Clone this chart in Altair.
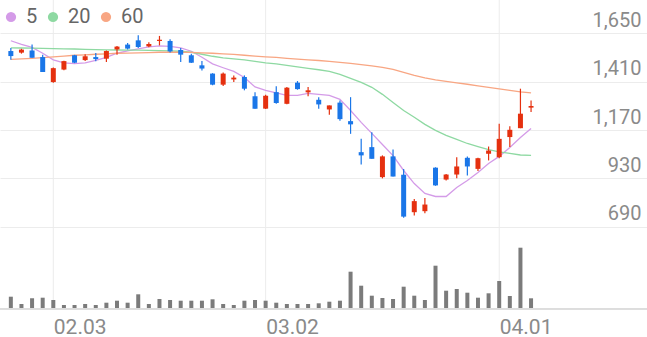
import altair as alt
import pandas as pd

# ---- data ----
dates = ["01.28", "01.29", "01.30", "01.31",
         "02.03", "02.04", "02.05", "02.06", "02.07", "02.10", "02.11", "02.12", "02.13", "02.14",
         "02.17", "02.18", "02.19", "02.20", "02.21", "02.24", "02.25", "02.26", "02.27", "02.28",
         "03.02", "03.03", "03.04", "03.05", "03.06", "03.09", "03.10", "03.11", "03.12", "03.13",
         "03.16", "03.17", "03.18", "03.19", "03.20", "03.23", "03.24", "03.25", "03.26", "03.27",
         "03.30", "03.31", "04.01", "04.02", "04.03", "04.06"]
opens = [1562, 1554, 1565, 1532, 1408, 1470, 1541, 1517, 1532, 1524,
         1570, 1594, 1615, 1585, 1612, 1612, 1567, 1541, 1491, 1450,
         1395, 1421, 1433, 1338, 1276, 1358, 1300, 1405, 1357, 1320,
         1272, 1306, 1214, 1060, 1085, 936, 1039, 948, 762, 767,
         983, 924, 949, 1032, 977, 1052, 1035, 1135, 1179, 1281]
highs = [1577, 1573, 1594, 1544, 1480, 1514, 1543, 1546, 1552, 1565,
         1587, 1602, 1640, 1605, 1637, 1620, 1577, 1549, 1512, 1452,
         1455, 1441, 1441, 1358, 1345, 1387, 1383, 1413, 1383, 1333,
         1292, 1317, 1333, 1126, 1159, 1044, 1073, 977, 828, 833,
         985, 952, 1035, 1039, 1032, 1088, 1201, 1188, 1375, 1317]
lows = [1519, 1549, 1529, 1458, 1405, 1467, 1502, 1512, 1511, 1507,
        1544, 1570, 1577, 1581, 1590, 1555, 1507, 1502, 1465, 1392,
        1388, 1408, 1367, 1276, 1274, 1300, 1298, 1370, 1338, 1276,
        1246, 1216, 1151, 999, 1027, 930, 939, 735, 745, 757,
        893, 919, 931, 944, 966, 1019, 1030, 1085, 1179, 1259]
closes = [1537, 1569, 1529, 1458, 1477, 1512, 1504, 1536, 1522, 1562,
          1584, 1574, 1582, 1597, 1618, 1560, 1544, 1504, 1475, 1395,
          1450, 1430, 1375, 1276, 1340, 1304, 1380, 1373, 1367, 1297,
          1292, 1224, 1198, 1044, 1027, 1039, 939, 740, 817, 800,
          895, 949, 989, 989, 1030, 1068, 1126, 1171, 1251, 1289]
volumes = [123, 50, 107, 113, 90, 40, 40, 50, 40, 63,
           83, 63, 147, 50, 100, 90, 83, 83, 83, 97,
           50, 40, 83, 90, 83, 63, 50, 50, 50, 57,
           73, 83, 373, 233, 133, 110, 100, 223, 133, 90,
           433, 183, 200, 163, 113, 157, 280, 130, 613, 107]
ma5 = [1613, 1595, 1580, 1551, 1518, 1503, 1499, 1503, 1516, 1531,
       1551, 1563, 1573, 1583, 1588, 1585, 1578, 1561, 1531, 1498,
       1479, 1461, 1431, 1384, 1367, 1354, 1342, 1342, 1352, 1347,
       1342, 1322, 1267, 1208, 1153, 1098, 1043, 969, 904, 855,
       840, 840, 885, 919, 959, 1004, 1039, 1083, 1133, 1178]
ma20 = [1578, 1577, 1576, 1575, 1574, 1573, 1572, 1570, 1569, 1568,
        1567, 1566, 1566, 1565, 1564, 1563, 1561, 1556, 1546, 1536,
        1528, 1523, 1518, 1511, 1503, 1498, 1491, 1483, 1476, 1469,
        1461, 1446, 1426, 1406, 1382, 1347, 1307, 1267, 1233, 1198,
        1168, 1143, 1123, 1103, 1088, 1073, 1061, 1054, 1046, 1044]
ma60 = [1521, 1523, 1526, 1529, 1533, 1537, 1541, 1543, 1546, 1548,
        1551, 1552, 1553, 1554, 1556, 1556, 1556, 1555, 1553, 1551,
        1548, 1545, 1541, 1537, 1533, 1530, 1526, 1522, 1518, 1515,
        1511, 1506, 1501, 1495, 1488, 1481, 1471, 1456, 1441, 1429,
        1419, 1411, 1404, 1397, 1389, 1382, 1374, 1367, 1359, 1354]
ma_names = ["5", "20", "60"]
ma_colors = ["#d49be8", "#8ed9a2", "#f8a683"]
tick_idx = [4, 24, 46]
price_ticks = [690, 930, 1170, 1410, 1650]

UP = "#e5300f"
DOWN = "#1a76e8"
GRID = "#ececec"
LABEL = "#8a8a8a"

n = len(dates)
candles = pd.DataFrame({
    "i": list(range(n)), "date": dates, "open": opens, "high": highs,
    "low": lows, "close": closes, "volume": volumes,
})
ma_rows = []
for name, vals in zip(ma_names, [ma5, ma20, ma60]):
    for k, v in enumerate(vals):
        ma_rows.append({"i": k, "ma": v, "series": name})
ma_df = pd.DataFrame(ma_rows)
grid_df = pd.DataFrame({"i": tick_idx})

label_expr = " : ".join(
    f"datum.value == {t} ? '{dates[t]}'" for t in tick_idx) + " : ''"

x_scale = alt.Scale(domain=[-0.55, 59.45], nice=False, zero=False)
x_axis = alt.Axis(values=tick_idx, labelExpr=label_expr, grid=False, domain=False,
                  ticks=False, tickSize=0, labelAlign="left", labelBaseline="alphabetic",
                  labelPadding=24, labelFontSize=21, labelColor=LABEL, labelFont="Roboto",
                  labelFlush=False, labelOverlap=False, title=None)
X = alt.X("i:Q", scale=x_scale, axis=x_axis)

price_scale = alt.Scale(domain=[690, 1650], range=[226.7, 33.3], zero=False, nice=False)
price_axis = alt.Axis(orient="right", values=price_ticks, format=",d", grid=True,
                      gridColor=GRID, gridWidth=1, domain=False, ticks=False, tickSize=0,
                      labelAlign="right", labelPadding=-6, labelBaseline="alphabetic",
                      labelOffset=-7, labelFontSize=20, labelColor=LABEL,
                      labelFont="Roboto", labelFlush=False, title=None)
PY = dict(scale=price_scale, axis=price_axis)

ma_legend = alt.Legend(orient="none", legendX=1, legendY=7,
                       direction="horizontal", title=None,
                       symbolType="circle", symbolSize=105,
                       symbolStrokeWidth=0,
                       labelFontSize=20, labelColor="#666666", labelFont="Roboto",
                       labelOffset=5, columnPadding=5, padding=0)
color_scale = alt.Scale(domain=ma_names, range=ma_colors)

vgrid = alt.Chart(grid_df).mark_rule(color=GRID, strokeWidth=1).encode(
    x=X, y=alt.value(0), y2=alt.value(309))

legend_pts = alt.Chart(ma_df).transform_filter("false").mark_circle(
    opacity=1, size=105).encode(
    x=X,
    y=alt.Y("ma:Q", **PY),
    color=alt.Color("series:N", scale=color_scale, legend=ma_legend),
)
lines = alt.Chart(ma_df).mark_line(strokeWidth=1.3).encode(
    x=X,
    y=alt.Y("ma:Q", **PY),
    color=alt.Color("series:N", scale=color_scale, legend=ma_legend),
    detail="series:N",
)

cond = alt.condition("datum.close >= datum.open", alt.value(UP), alt.value(DOWN))
wicks = alt.Chart(candles).mark_rule(strokeWidth=1.2).encode(
    x=X, y=alt.Y("low:Q", **PY), y2="high:Q", color=cond)
bodies = alt.Chart(candles).mark_bar(size=5).encode(
    x=X, y=alt.Y("open:Q", **PY), y2="close:Q", color=cond)

price = alt.layer(legend_pts, vgrid, lines, wicks, bodies)

vol_scale = alt.Scale(domain=[0, 650], range=[309, 244], nice=False)
vol_bars = alt.Chart(candles).mark_bar(size=4, color="#7b7b7b").encode(
    x=X, y=alt.Y("volume:Q", scale=vol_scale, axis=None))
vol_base = alt.Chart(candles).mark_rule(color="#dddddd", strokeWidth=1).encode(
    y=alt.datum(0, scale=vol_scale, axis=None))
volume = alt.layer(vol_bars, vol_base)

chart = alt.layer(price, volume).resolve_scale(y="independent").properties(
    width=647, height=309, autosize="none", background="white",
    padding={"left": 0, "top": 0, "right": 0, "bottom": 28},
).configure_view(stroke=None).configure_legend(
    labelFontSize=20, labelFont="Roboto", labelColor="#666666",
    symbolSize=105, labelOffset=5, columnPadding=5,
)

chart.save("out.html", embed_options={"renderer": "svg", "actions": False})
